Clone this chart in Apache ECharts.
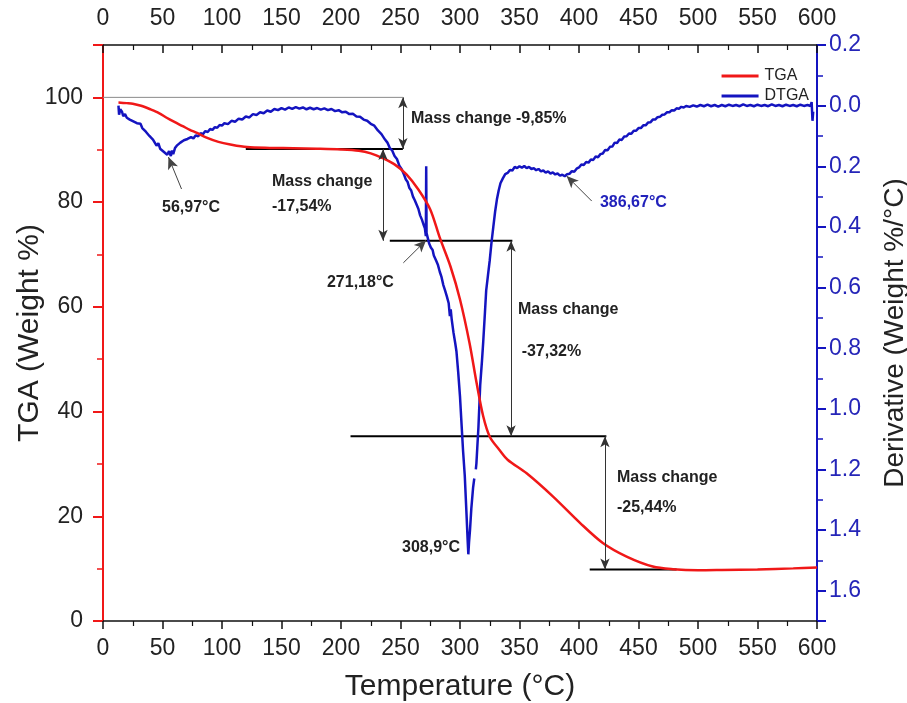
<!DOCTYPE html>
<html><head><meta charset="utf-8">
<script src="https://cdn.jsdelivr.net/npm/echarts@6/dist/echarts.min.js"></script>
<style>html,body{margin:0;padding:0;background:#fff}#c{width:907px;height:703px}</style>
</head><body><div id="c"></div>
<script>
// ---- data ----
const xTicks = [0,50,100,150,200,250,300,350,400,450,500,550,600];
const tgaT = [13,20,25,32,40,47,53.5,60,67,73,79,87,97,107,121,140,160,180,200,215,225,235,245,255,265,275,283,292,300,308,314,319.5,325,333,340,356,378,401,420,440,462,479,500,520,550,580,600];
const tgaV = [99.0,98.9,98.8,98.4,97.7,97.0,96.1,95.3,94.5,93.8,93.2,92.3,91.5,91.0,90.5,90.35,90.3,90.2,90.05,89.8,89.3,88.4,87.2,85.3,82.4,78.6,73.2,67.7,61.4,53.1,45.4,39.1,35.2,32.7,30.8,28.2,23.8,18.7,14.9,12.3,10.4,9.9,9.7,9.75,9.85,10.05,10.2];
const dtgaT = [13,13.5,14.5,16,17,18.5,20,21,22.5,24,25.5,27,28.5,30,31.5,33,34.5,36,37.5,39,40.5,42,43.5,45,46.5,48,49.5,51,52.5,54,55.5,57,58,59,60.5,62,63.5,65,66.5,68,69.5,71,72.5,74,76,78,80,82,84,86,88,90,92,94,96,98,100,
102,105,108,111,114,117,120,123,126,129,132,135,138,141,144,147,150,153,156,159,162,165,168,171,174,177,180,183,186,189,192,195,198,201,204,207,210,213,216,219,222,225,228,231,234,237,239,241,243,245,247,249,251,253,254.5,256,257.5,259,260.5,262,263.5,265,266.5,268,269.5,270.5,271.3,271.6,271.9,273,274,275.5,277,278,279,280,281.5,283,284.5,286,287.5,289,290.5,291.5,292.2,293,294.5,296,297,298.5,300,301,302.6,304,305.5,306.5,307,307.6,308.4,309.5,311,312,312.6,313.3,313.8,314.5,315.5,317,318.5,319.5,321,322,323.5,325,326.5,328,329.5,331,332.5,334,336,338,340,342,344,346,348,350,352,354,356,358,360,362,364,366,368,370,372,374,376,378,380,382,384,386,388,390,392,394,396,398,400,402,404,406,408,410,412,414,416,418,420,422,424,426,428,430,432,434,436,438,440,442,444,446,448,450,452,454,456,458,460,462,464,466,468,470,472,474,476,478,480,482,484,486,488,490,493,496,499,502,505,508,511,514,517,520,523,526,529,532,535,538,541,544,547,550,553,556,559,562,565,568,571,574,577,580,583,586,589,592,594.5,595.5,596.2,596.8];
const dtgaV = [0.000,0.030,0.012,0.020,0.035,0.028,0.040,0.034,0.046,0.042,0.052,0.048,0.058,0.064,0.060,0.074,0.070,0.086,0.082,0.100,0.096,0.112,0.108,0.132,0.124,0.142,0.138,0.152,0.146,0.162,0.150,0.166,0.148,0.160,0.140,0.132,0.138,0.122,0.128,0.114,0.120,0.110,0.116,0.104,0.108,0.098,0.101,0.091,0.094,0.084,0.087,0.077,0.080,0.071,0.073,0.064,0.066,
0.058,0.061,0.050,0.053,0.043,0.046,0.036,0.039,0.028,0.031,0.022,0.025,0.016,0.020,0.011,0.015,0.008,0.013,0.006,0.011,0.005,0.010,0.006,0.012,0.007,0.012,0.008,0.013,0.009,0.015,0.011,0.018,0.015,0.022,0.020,0.028,0.027,0.036,0.037,0.046,0.050,0.060,0.066,0.082,0.094,0.112,0.122,0.140,0.148,0.166,0.176,0.198,0.210,0.228,0.244,0.252,0.272,0.280,0.300,0.312,0.326,0.340,0.362,0.376,0.394,0.405,0.430,0.200,0.420,0.438,0.454,0.468,0.476,0.494,0.488,0.512,0.526,0.548,0.566,0.592,0.610,0.630,0.652,0.694,0.672,0.704,0.748,0.784,0.810,0.880,0.960,1.030,1.140,1.220,1.350,1.440,1.480,1.440,1.400,1.330,1.260,1.230,null,1.200,1.180,1.130,1.060,0.920,0.840,0.780,0.680,0.610,0.560,0.510,0.450,0.400,0.350,0.310,0.280,0.256,0.240,0.226,0.222,0.212,0.214,0.202,0.206,0.200,0.205,0.199,0.206,0.202,0.209,0.206,0.213,0.209,0.217,0.214,0.221,0.217,0.224,0.220,0.227,0.224,0.231,0.228,0.233,0.226,0.225,0.216,0.218,0.208,0.204,0.194,0.196,0.186,0.188,0.178,0.179,0.168,0.170,0.160,0.158,0.146,0.147,0.136,0.135,0.122,0.123,0.112,0.113,0.102,0.101,0.092,0.093,0.083,0.083,0.074,0.074,0.065,0.065,0.056,0.055,0.046,0.046,0.038,0.037,0.030,0.029,0.022,0.022,0.015,0.016,0.009,0.010,0.004,0.006,0.001,0.004,-0.001,0.003,-0.002,0.002,-0.003,0.002,-0.002,0.003,-0.002,0.002,-0.003,0.001,-0.002,0.002,-0.004,0.001,-0.002,0.002,-0.003,0.001,-0.002,0.002,-0.004,0.001,-0.002,0.002,-0.003,0.001,-0.002,0.002,-0.003,0.001,-0.002,0.001,-0.012,0.050,0.020];
// mass-change steps (TGA levels) and the temperature spans of their guide lines
const stepLevels = [100, 90.15, 72.61, 35.29, 9.85];
const stepLineFrom = [0, 120, 241, 208, 409];
const stepLineTo = [252, 252, 344, 423, 482];
const arrowTemps = [252, 235.3, 342.9, 421.8];
const peakLabels = ['56,97°C','271,18°C','308,9°C','386,67°C'];
const changeLabels = ['-9,85%','-17,54%','-37,32%','-25,44%'];

const RED = '#f01818', BLUE = '#1414c0', FONT = '"Liberation Sans", Arial, sans-serif';
const pair = (a,b) => a.map((v,i)=>[v, b[i]===null ? '-' : b[i]]);

const chart = echarts.init(document.getElementById('c'), null, {renderer:'canvas'});
const axisX = (pos) => ({
  type:'value', position:pos, min:0, max:600, interval:50,
  axisLine:{show:true, onZero:false, lineStyle:{color:'#111', width:1.5}},
  axisTick:{show:true, inside: pos==='top', length:8, lineStyle:{color:'#111', width:1.5}},
  minorTick:{show:true, splitNumber:2, length:5, lineStyle:{color:'#111', width:1.2}},
  axisLabel:{color:'#222', fontSize:23, fontFamily:FONT, margin: pos==='top' ? 15 : 16},
  splitLine:{show:false}
});
const xBottom = axisX('bottom');
xBottom.name = 'Temperature (°C)'; xBottom.nameLocation='middle'; xBottom.nameGap=51;
xBottom.nameTextStyle = {fontSize:30, color:'#222', fontFamily:FONT};
const xTop = axisX('top');

const series = [
  {name:'TGA', type:'line', xAxisIndex:0, yAxisIndex:0, data:pair(tgaT,tgaV), showSymbol:false, smooth:0.3,
   lineStyle:{color:RED, width:2.5}, itemStyle:{color:RED}, z:4},
  {name:'DTGA', type:'line', xAxisIndex:0, yAxisIndex:1, data:pair(dtgaT,dtgaV), showSymbol:false, connectNulls:false,
   lineStyle:{color:BLUE, width:2.5}, itemStyle:{color:BLUE}, z:3}
];
stepLevels.forEach((lv,i)=>{
  series.push({type:'line', xAxisIndex:0, yAxisIndex:0, silent:true, showSymbol:false,
    data:[[stepLineFrom[i],lv],[stepLineTo[i],lv]],
    lineStyle:{color: i===0 ? '#8a8a8a' : '#000', width: i===0 ? 1 : 2}, z:2});
});
// double arrows between consecutive levels
const dbl = arrowTemps.map((t,i)=>[{coord:[t,stepLevels[i]]},{coord:[t,stepLevels[i+1]]}]);
series.push({type:'line', xAxisIndex:0, yAxisIndex:0, data:[], silent:true,
  markLine:{silent:true, symbol:['arrow','arrow'], symbolSize:[7,11], label:{show:false},
    lineStyle:{color:'#333', width:1, type:'solid'}, data:dbl}});
// peak pointer arrows (TGA coordinates)
const peakArrows = [
  [{coord:[66,82.5]},{coord:[55,88.6]}],
  [{coord:[252.4,68.4]},{coord:[271.5,72.7]}],
  [{coord:[410.7,80.2]},{coord:[389.6,85.0]}]
];
series.push({type:'line', xAxisIndex:0, yAxisIndex:0, data:[], silent:true,
  markLine:{silent:true, symbol:['none','arrow'], symbolSize:[8,12], label:{show:false},
    lineStyle:{color:'#444', width:1, type:'solid'}, data:peakArrows}});

chart.setOption({
  animation:false,
  backgroundColor:'#fff',
  grid:{left:103, right:90, top:45, bottom:82, containLabel:false, outerBoundsMode:'none'},
  legend:{data:['TGA','DTGA'], orient:'vertical', right:93, top:63, itemWidth:37, itemHeight:3, itemGap:4,
    icon:'rect', textStyle:{fontSize:16, color:'#222', fontFamily:FONT, padding:[0,0,0,1]}},
  xAxis:[xBottom, xTop],
  yAxis:[
    {type:'value', position:'left', min:0, max:110, interval:20,
     name:'TGA (Weight %)', nameLocation:'middle', nameGap:58, nameRotate:90, nameMoveOverlap:false,
     nameTextStyle:{fontSize:30, color:'#222', fontFamily:FONT},
     axisLine:{show:true, onZero:false, lineStyle:{color:RED, width:2}},
     axisTick:{show:true, length:10, lineStyle:{color:RED, width:2}},
     minorTick:{show:true, splitNumber:2, length:6, lineStyle:{color:RED, width:1.5}},
     axisLabel:{color:'#222', fontSize:23, fontFamily:FONT, margin:20, formatter:v=> v>100.5 ? '' : String(v)},
     splitLine:{show:false}},
    {type:'value', position:'right', min:-0.2, max:1.7, interval:0.2, inverse:true,
     name:'Derivative (Weight %/°C)', nameLocation:'middle', nameGap:64, nameRotate:90,
     nameTextStyle:{fontSize:28, color:'#222', fontFamily:FONT},
     axisLine:{show:true, onZero:false, lineStyle:{color:BLUE, width:2}},
     axisTick:{show:true, length:9, lineStyle:{color:BLUE, width:2}},
     minorTick:{show:true, splitNumber:2, length:6, lineStyle:{color:BLUE, width:1.5}},
     axisLabel:{color:'#2525b8', fontSize:23, fontFamily:FONT, margin:12,
       formatter:v=> v>1.65 ? '' : Math.abs(v).toFixed(1)},
     splitLine:{show:false}}
  ],
  series:series
});

// text annotations placed in data coordinates (temperature, TGA %)
const texts = [
  {p:[49.6,79.0], t:peakLabels[0]},
  {p:[258.8,96.0], t:'Mass change ' + changeLabels[0]},
  {p:[142,83.9], t:'Mass change'},
  {p:[142,79.2], t:changeLabels[1]},
  {p:[188.2,64.6], t:peakLabels[1]},
  {p:[251.3,14.0], t:peakLabels[2]},
  {p:[417.6,79.9], t:peakLabels[3], c:'#2222bb'},
  {p:[348.7,59.5], t:'Mass change'},
  {p:[351.8,51.4], t:changeLabels[2]},
  {p:[431.9,27.3], t:'Mass change'},
  {p:[431.9,21.6], t:changeLabels[3]}
];
const g = texts.map(o=>{
  const px = chart.convertToPixel({xAxisIndex:0, yAxisIndex:0}, o.p);
  return {type:'text', x:px[0], y:px[1], silent:true, z:10,
    style:{text:o.t, fill:o.c||'#222', font:'bold 16px ' + FONT, align:'left', verticalAlign:'middle'}};
});
chart.setOption({graphic:g});
</script>
</body></html>
